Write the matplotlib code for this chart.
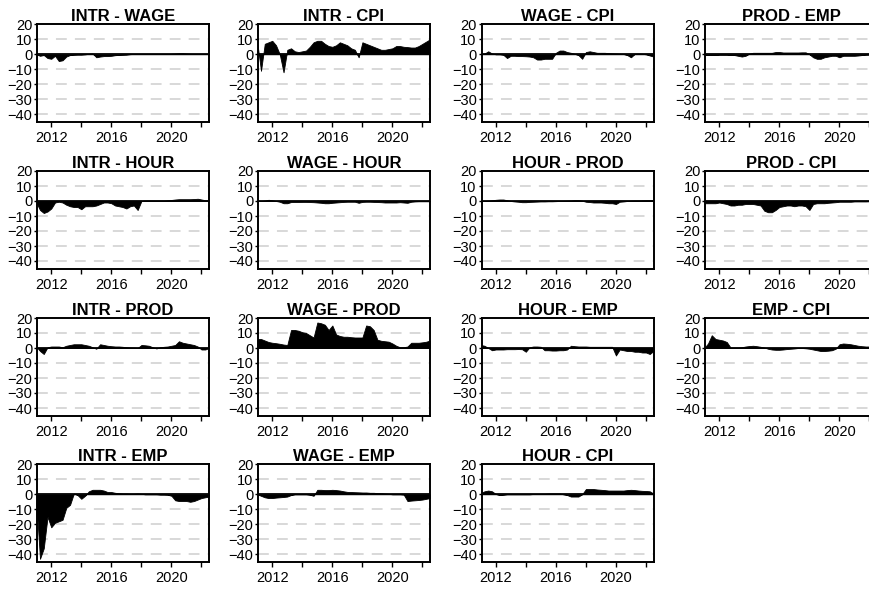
import numpy as np
import matplotlib
matplotlib.use("Agg")
import matplotlib.pyplot as plt

plt.rcParams['font.family'] = ['Liberation Sans', 'DejaVu Sans']

# quarterly dates, 2011Q1 .. 2022Q3
dates = np.arange(2011.0, 2022.51, 0.25)

# net pairwise spillovers (one row per year)
intr_wage = [0, -1, -0.5, -2.5, -3, -1, -4.5, -4, -1.5, -0.5, -0.3, -0.2,
             -0.2, 0, 0.3, 0.5, -2, -1.5, -1.2, -1.2, -1, -0.6, -0.4, -0.3,
             -0.2, 0.1, 0.2, 0.2, 0.2, 0.2, 0.2, 0.2, 0.2, 0.2, 0.2, 0.2,
             0.3, 0.5, 0.7, 0.7, 0.5, 0.3, 0.2, 0.2, 0.2, 0.2, 0.2]
intr_cpi = [8, -11, 7, 8, 9, 6, 0, -12, 3, 4, 2, 1.5,
            2, 2.5, 5, 8, 9, 9, 7, 5.5, 5, 6, 8, 7,
            6, 4, 3, -2, 8, 7, 6, 5, 4, 3, 3, 3.5,
            4, 5.5, 5.5, 5, 4.8, 4.5, 4.5, 5.5, 7, 8.5, 10]
wage_cpi = [0, 0.5, 2, 0.5, 0, 0, -0.3, -2.5, -1, -1, -1.2, -1.2,
            -1.3, -1.5, -2, -3.5, -3.5, -3, -3, -3, 1, 2.5, 2.5, 1.5,
            1, 0.3, -0.5, -3, 1.5, 2, 1.5, 1, 1, 1, 0.8, 0.6,
            0.5, 0.3, 0.2, -0.5, -2, 0.3, 0.4, 0.3, 0, -0.8, -1.5]
prod_emp = [-0.3, -0.5, -0.5, -0.5, -0.3, -0.3, -0.3, -0.5, -0.5, -1, -1.5, -1,
            0.5, 1, 1, 1, 1, 1, 1, 1.5, 1.5, 1.2, 1.2, 1.2,
            1.2, 1.2, 1.3, 1.3, 0, -2, -3, -3, -2, -1.5, -1, -1,
            -2, -1, -1, -1, -1, -0.8, -0.5, -0.3, -0.2, 0, 0]
intr_hour = [-1, -6, -8, -7, -5, -1, -0.5, -1, -2.5, -3.5, -4, -4,
             -5.5, -3.5, -3.5, -3.5, -3, -2, -1, -1, -1.5, -3, -3.5, -4,
             -5, -3.5, -3, -6, 0, 0.3, 0.3, 0.3, 0.3, 0.3, 0.3, 0.5,
             0.7, 1, 1.2, 1.2, 1.2, 1.2, 1.3, 1.5, 1, 0.5, 0.5]
wage_hour = [0, 0, 0.3, 0.8, 0.5, 0, -0.5, -1.5, -1.5, -0.7, -0.7, -0.7,
             -0.6, -0.6, -0.7, -0.8, -1, -1.2, -1.5, -1.5, -1.2, -1, -0.8, -0.6,
             -0.5, -0.5, -0.5, -1.2, -0.6, -0.5, -0.5, -0.6, -0.7, -0.8, -1, -1,
             -1, -1, -0.8, -1, -1.2, -0.5, -0.3, -0.2, -0.2, -0.2, -0.2]
hour_prod = [0, 0, 0.2, 0.5, 0.8, 1, 1, 0.5, 0, -0.3, -0.5, -0.8,
             -0.8, -0.6, -0.5, -0.4, -0.3, -0.3, -0.2, -0.2, -0.1, 0, 0.1, 0.2,
             0.3, 0.5, 0.5, 0.2, -0.5, -0.7, -1, -1, -1, -1.2, -1.5, -1.5,
             -2, -0.5, -0.3, 0, 0.2, 0.3, 0.3, 0.4, 0.5, 0.5, 0.5]
prod_cpi = [-1.5, -1.5, -1.5, -1.5, -1, -1.5, -2, -3, -3, -2.5, -2.5, -2,
            -2, -2, -2.5, -3, -6.5, -7.5, -7.5, -6, -4, -3.5, -3, -3,
            -3.5, -3, -3, -3.5, -6, -2, -1.5, -1.5, -1.5, -1.2, -1, -0.8,
            -0.5, -0.5, -0.5, -0.5, -0.3, -0.3, -0.3, -0.3, -0.2, -0.2, -0.2]
intr_prod = [1, -2, -4, 0.5, 1, 1, 1, 0.5, 1.5, 2, 2.5, 2.5,
             2.5, 2, 1.5, 0.5, -0.5, 2.5, 2, 1.5, 1.2, 1, 1, 0.8,
             0.5, 0.3, 0.2, 0, 2, 1.8, 1.5, 0.5, -0.3, 0.5, 0.8, 1,
             1.5, 2, 4.5, 3.5, 3, 2.5, 2, 1, -1, -1, 0]
wage_prod = [6, 6, 5, 4, 3.5, 3.2, 2.8, 2.3, 2, 12, 12, 11.5,
             10.5, 10, 8.5, 7, 17, 16.5, 15.5, 12, 15, 9, 8, 7.5,
             7.5, 7.2, 7, 7, 7, 15, 14.5, 12, 5.5, 4.8, 4.5, 4.2,
             3, 1.5, 0.5, 0.5, 1, 3.5, 3.5, 3.5, 3.8, 4.2, 5]
hour_emp = [2, 1.5, 0, -1.5, -1, -1, -1, -0.8, -0.8, -0.8, -0.7, -0.8,
            -2.5, 0.5, 1, 1, 0.8, -1.5, -1.5, -1.7, -1.7, -1.5, -1.5, -1,
            1.5, 1.2, 1, 1, 1, 0.8, 0.8, 0.8, 0.8, 0.8, 0.8, 0.8,
            -5, -1, -1.5, -2, -2, -2.5, -2.5, -3, -3, -4, -2]
emp_cpi = [0, 3, 8.5, 6, 5.5, 5, 4, 0.3, 0.3, 0.3, 0.5, 1,
           1.3, 1.5, 1.2, 0.8, 0.3, -0.5, -1, -1.2, -1.2, -1, -0.7, -0.5,
           -0.3, 0, 0, -0.2, -0.5, -1, -1.5, -2, -2, -1.8, -1.5, -0.5,
           2.5, 3, 2.8, 2.5, 2, 1.5, 1.2, 1, 1, 1, 1]
intr_emp = [-4, -43, -36, -15, -22, -19, -18, -17, -9, -7, 0.5, -0.5,
            -3, -1, 2, 3, 3, 3, 2.5, 1.5, 1.5, 1, 0.7, 0.5,
            0.5, 0.3, 0.3, 0.5, 0.3, 0, 0, 0, 0, -0.2, -0.2, -0.3,
            -1, -4, -4.5, -4.5, -4.5, -5, -4.5, -3.5, -2.5, -2, -1.5]
wage_emp = [0, -1, -2, -2.5, -2.5, -2.2, -2, -1.8, -1.5, -0.5, 0, 0,
            0, 0, -0.3, -1, 3, 3, 2.8, 2.8, 3, 2.8, 2.5, 2,
            1.6, 1.5, 1.4, 1.3, 1.2, 1.2, 1, 1, 0.8, 0.7, 0.5, 0.3,
            0, 0, 0, -0.2, -4.5, -4.2, -4, -3.8, -3.5, -3, -2.5]
hour_cpi = [1, 2, 2.5, 2, 0.2, -0.5, -0.3, 0, 0, 0, 0, 0,
            0, 0, 0.2, 0.2, 0.3, 0.3, 0.5, 0.5, 0.5, 0.5, 0, -0.5,
            -1.5, -1.5, -1.5, 0, 3.5, 3.5, 3.5, 3.2, 3, 2.8, 2.5, 2.5,
            2.5, 2.5, 2.5, 2.8, 3, 2.8, 2.5, 2.3, 2.2, 2, 0.5]

titles = ['INTR - WAGE', 'INTR - CPI', 'WAGE - CPI', 'PROD - EMP',
          'INTR - HOUR', 'WAGE - HOUR', 'HOUR - PROD', 'PROD - CPI',
          'INTR - PROD', 'WAGE - PROD', 'HOUR - EMP', 'EMP - CPI',
          'INTR - EMP', 'WAGE - EMP', 'HOUR - CPI']
series = [intr_wage, intr_cpi, wage_cpi, prod_emp,
          intr_hour, wage_hour, hour_prod, prod_cpi,
          intr_prod, wage_prod, hour_emp, emp_cpi,
          intr_emp, wage_emp, hour_cpi]

fig = plt.figure(figsize=(8.7, 5.89), dpi=100)

# panel grid (pixel positions measured on the original)
col_left = [37, 258, 481.5, 705]
row_bottom = [121.8, 268.5, 415.5, 561.8]
w_px, h_px = 172, 97.5

for k, (name, vals) in enumerate(zip(titles, series)):
    r, c = divmod(k, 4)
    ax = fig.add_axes([col_left[c] / 870, 1 - row_bottom[r] / 589, w_px / 870, h_px / 589])
    for g in [10, -10, -20, -30, -40]:
        ax.axhline(g, color='#d6d6d6', lw=1.3, ls=(0, (6, 4.5)), zorder=0)
    ax.fill_between(dates, 0, vals, color='black', lw=0.6, zorder=2)
    ax.axhline(0, color='black', lw=1.3, zorder=3)
    ax.set_xlim(2011.05, 2022.5)
    ax.set_ylim(-45, 20)
    ax.set_yticks([20, 10, 0, -10, -20, -30, -40])
    ax.set_xticks([2012, 2014, 2016, 2018, 2020, 2022])
    ax.set_xticklabels(['2012', '', '2016', '', '2020', ''])
    ax.tick_params(axis='x', direction='out', length=3.5, width=1, pad=3, labelsize=10.5)
    ax.tick_params(axis='y', direction='out', length=2, width=1, pad=1.5, labelsize=10.5)
    for sp in ax.spines.values():
        sp.set_linewidth(1.4)
    ax.set_title(name, fontsize=12, fontweight='bold', pad=2)

plt.savefig('out.png', dpi=100)
